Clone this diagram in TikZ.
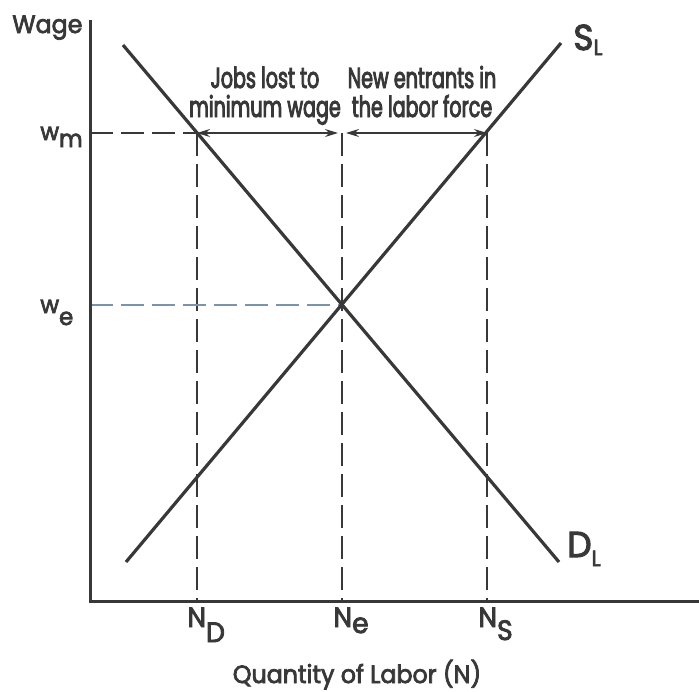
\documentclass[tikz,border=0pt]{standalone}
\usepackage{fontspec}
\setmainfont{Poppins}[FakeStretch=0.95,FakeBold=3]
\newfontfamily\condfont{Poppins}[FakeStretch=0.66,FakeBold=3]
\newcommand\tightlines{\lineskiplimit=-20pt\relax\lineskip=0pt\relax}
\usetikzlibrary{arrows.meta}
\definecolor{ink}{HTML}{383838}
\definecolor{bluedash}{HTML}{7C93AE}
\begin{document}
\begin{tikzpicture}[x=0.5pt,y=-0.5pt,
  curve/.style={draw=ink,line width=1.6pt},
  axis/.style={draw=ink,line width=1.5pt},
  guide/.style={draw=ink,line width=0.55pt,dash pattern=on 11.5pt off 4pt},
  span/.style={draw=ink,line width=0.6pt,{Stealth[length=6.5pt,width=4pt]}-{Stealth[length=6.5pt,width=4pt]}},
  lbl/.style={text=ink,inner sep=0pt,font=\fontsize{12.5}{12}\selectfont},
  note/.style={text=ink,inner sep=0pt,align=center,
    font={\condfont\fontsize{14.5}{14.5}\selectfont\tightlines}},
  big/.style={text=ink,inner sep=0pt,font=\fontsize{18}{18}\selectfont},
  ]
\useasboundingbox (0,0) rectangle (699,691);
% key points
\coordinate (O) at (90,601);
\coordinate (ytop) at (90,20);
\coordinate (xend) at (699,601);
\coordinate (Dtop) at (123,45);
\coordinate (Dbot) at (559,562);
\coordinate (Sbot) at (126,562);
\coordinate (Stop) at (561,43);
\coordinate (E) at (342,305);
\coordinate (A) at (197,133);
\coordinate (B) at (342,133);
\coordinate (C) at (487,133);
\coordinate (wm) at (90,133);
\coordinate (we) at (90,305);
\coordinate (ND) at (197,601);
\coordinate (Ne) at (342,601);
\coordinate (NS) at (487,601);
% guides
\draw[guide] (wm) -- (A);
\draw[guide] (A) -- (ND);
\draw[guide] (B) -- (Ne);
\draw[guide] (C) -- (NS);
\draw[guide,draw=bluedash] (we) -- (E);
% spans
\draw[span,shorten >=2pt] (A) -- (B);
\draw[span,shorten <=2pt] (B) -- (C);
% axes
\draw[axis] (ytop) -- (O) -- (xend);
% curves
\draw[curve] (Dtop) -- (Dbot);
\draw[curve] (Sbot) -- (Stop);
% labels
\node[lbl,anchor=base west,font=\fontsize{12.5}{12}\selectfont] (wage) at (12,33) {Wage};
\node[lbl,anchor=base west,font=\fontsize{12}{12}\selectfont] (lwm) at (40,140) {w\raisebox{-3.5pt}{m}};
\node[lbl,anchor=base west,font=\fontsize{12}{12}\selectfont] (lwe) at (40,313) {w\raisebox{-6pt}{e}};
\node[note,anchor=base] (jobs) at (265,117) {Jobs lost to\\minimum wage};
\node[note,anchor=base] (entr) at (422,117) {New entrants in\\the labor force};
\node[big,anchor=base west] (lS) at (573,50) {S\raisebox{-2.5pt}{\fontsize{11}{11}\selectfont L}};
\node[big,anchor=base west] (lD) at (567,557) {D\raisebox{-4.5pt}{\fontsize{11}{11}\selectfont L}};
\node[lbl,anchor=base west,font=\fontsize{14}{12}\selectfont] (lND) at (187,627) {N\raisebox{-7.5pt}{D}};
\node[lbl,anchor=base west,font=\fontsize{14}{12}\selectfont] (lNe) at (333,627) {N\raisebox{-3pt}{e}};
\node[lbl,anchor=base west,font=\fontsize{14}{12}\selectfont] (lNS) at (478,627) {N\raisebox{-6.5pt}{S}};
\node[lbl,anchor=base] (qty) at (357,683) {Quantity of Labor (N)};
\end{tikzpicture}
\end{document}
